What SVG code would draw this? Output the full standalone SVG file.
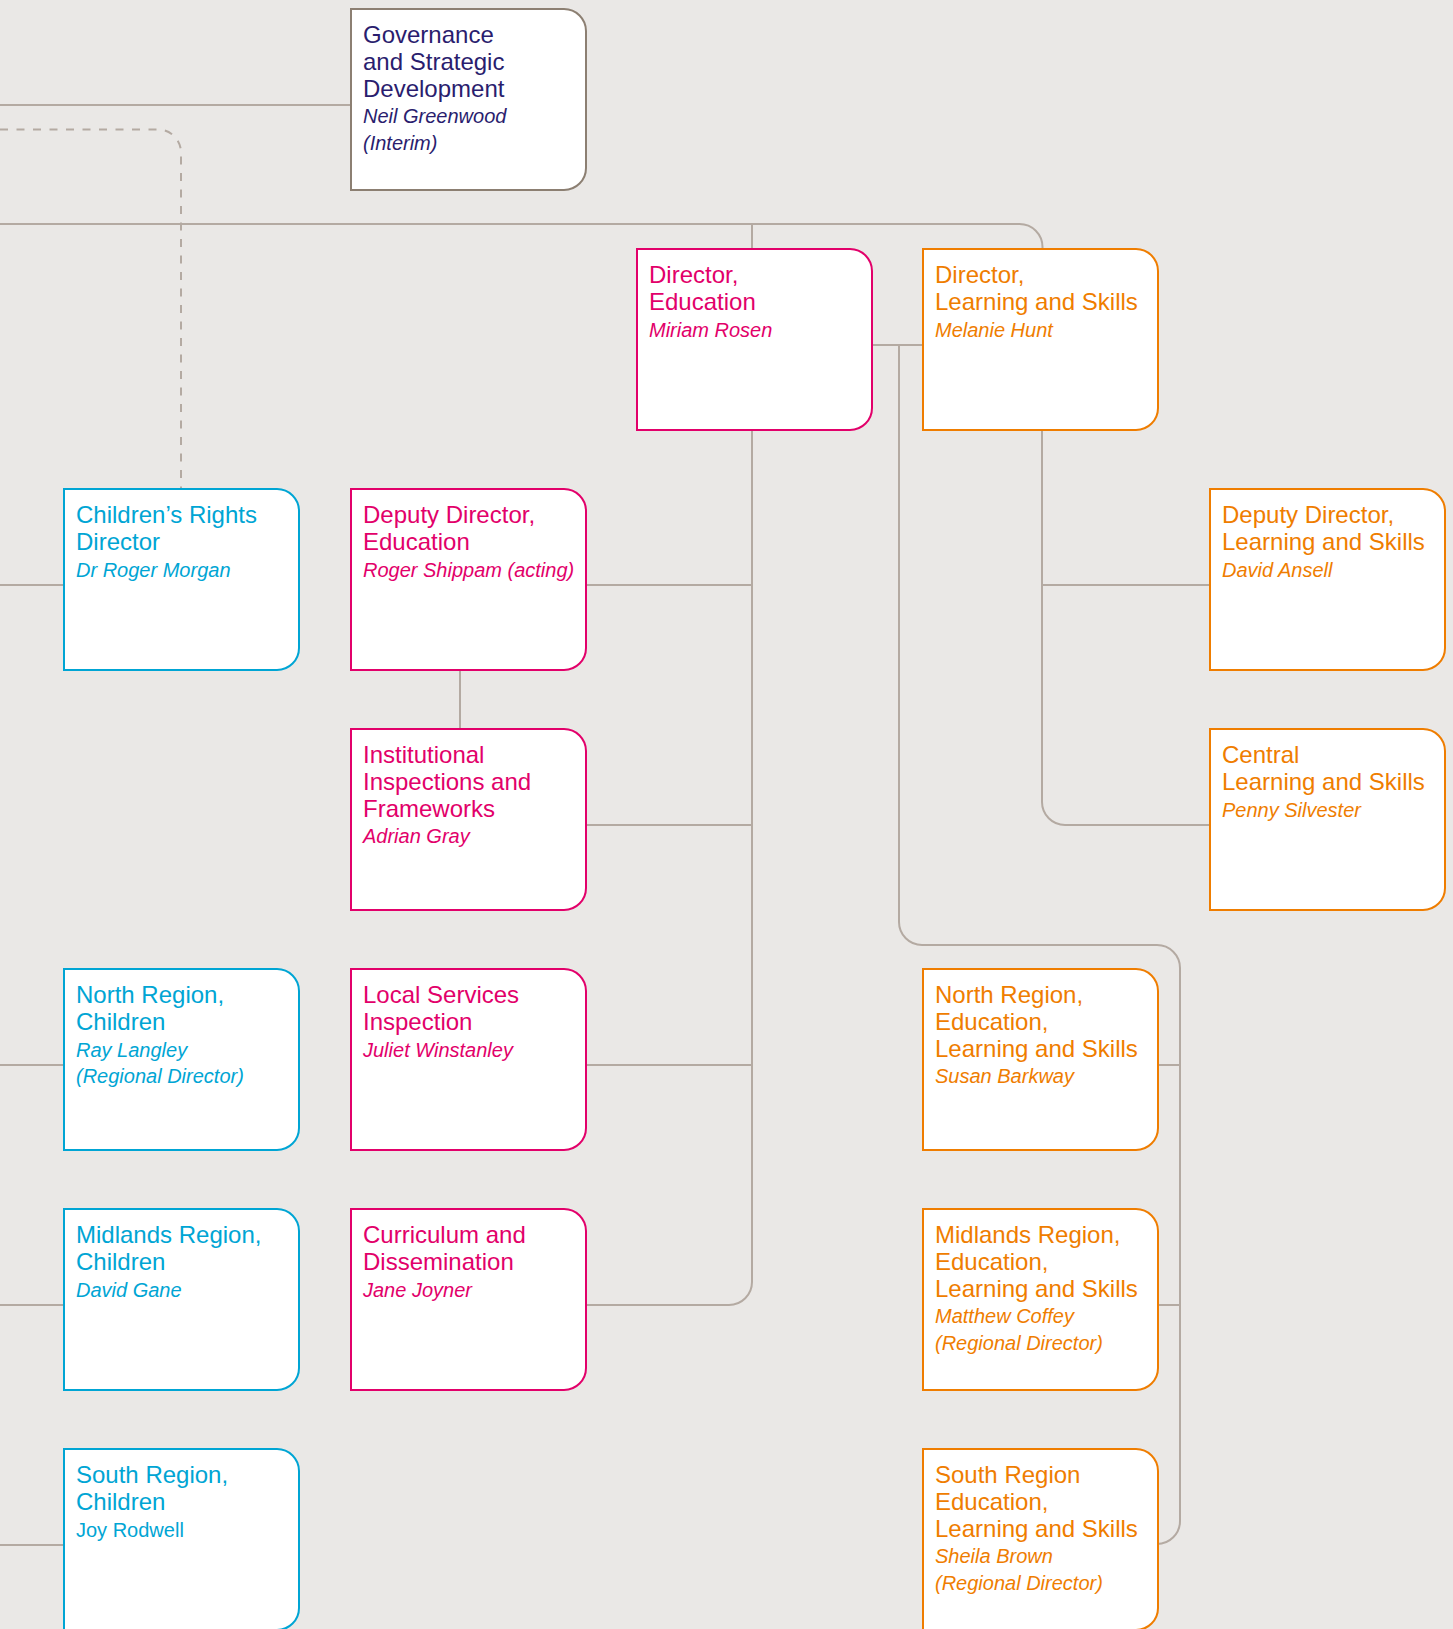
<svg xmlns="http://www.w3.org/2000/svg" width="1453" height="1629" viewBox="0 0 1453 1629">
<style>
  .bg{fill:#EAE8E6}
  .box{fill:#FFFFFF;stroke-width:2}
  .gov .box{stroke:#8C7F72}
  .pink .box{stroke:#E2006A}
  .orange .box{stroke:#EF7D00}
  .blue .box{stroke:#00A5D4}
  text{font-family:"Liberation Sans",Arial,sans-serif}
  .t{font-size:24px}
  .n{font-size:20px;font-style:italic}
  .nr{font-size:20px}
  .gov text{fill:#2A1D6E}
  .pink text{fill:#E2006A}
  .orange text{fill:#EF7D00}
  .blue text{fill:#00A5D4}
  .conn path{fill:none;stroke:#B4AAA2;stroke-width:2}
  .conn path.dash{stroke-dasharray:8 8.5}
</style>
<rect class="bg" x="0" y="0" width="1453" height="1629"/>

<g id="connectors" class="conn">
  <path d="M0 105 H351"/>
  <path class="dash" d="M0 129.5 H158 A23 23 0 0 1 181 152.5 V489"/>
  <path d="M0 224 H1019.5 A23 23 0 0 1 1042.5 247 V249"/>
  <path d="M752 224 V249"/>
  <path d="M872 345 H923"/>
  <path d="M899 345 V922 A23 23 0 0 0 922 945 H1157 A23 23 0 0 1 1180 968 V1521 A23 23 0 0 1 1157 1544"/>
  <path d="M1158 1065 H1180"/>
  <path d="M1158 1305 H1180"/>
  <path d="M752 430 V1282 A23 23 0 0 1 729 1305 H586"/>
  <path d="M586 585 H752"/>
  <path d="M586 825 H752"/>
  <path d="M586 1065 H752"/>
  <path d="M460 670 V729"/>
  <path d="M1042 430 V802 A23 23 0 0 0 1065 825 H1210"/>
  <path d="M1042 585 H1210"/>
  <path d="M0 585 H64"/>
  <path d="M0 1065 H64"/>
  <path d="M0 1305 H64"/>
  <path d="M0 1545 H64"/>
</g>

<g id="governance" class="gov">
  <path class="box" d="M351 9 H564 A22 22 0 0 1 586 31 V168 A22 22 0 0 1 564 190 H351 Z"/>
  <text class="t" x="363" y="43">Governance</text>
  <text class="t" x="363" y="70">and Strategic</text>
  <text class="t" x="363" y="97">Development</text>
  <text class="n" x="363" y="123">Neil Greenwood</text>
  <text class="n" x="363" y="150">(Interim)</text>
</g>

<g id="director-education" class="pink">
  <path class="box" d="M637 249 H850 A22 22 0 0 1 872 271 V408 A22 22 0 0 1 850 430 H637 Z"/>
  <text class="t" x="649" y="283">Director,</text>
  <text class="t" x="649" y="310">Education</text>
  <text class="n" x="649" y="337">Miriam Rosen</text>
</g>

<g id="director-learning-skills" class="orange">
  <path class="box" d="M923 249 H1136 A22 22 0 0 1 1158 271 V408 A22 22 0 0 1 1136 430 H923 Z"/>
  <text class="t" x="935" y="283">Director,</text>
  <text class="t" x="935" y="310">Learning and Skills</text>
  <text class="n" x="935" y="337">Melanie Hunt</text>
</g>

<g id="childrens-rights" class="blue">
  <path class="box" d="M64 489 H277 A22 22 0 0 1 299 511 V648 A22 22 0 0 1 277 670 H64 Z"/>
  <text class="t" x="76" y="523">Children’s Rights</text>
  <text class="t" x="76" y="550">Director</text>
  <text class="n" x="76" y="577">Dr Roger Morgan</text>
</g>

<g id="deputy-director-education" class="pink">
  <path class="box" d="M351 489 H564 A22 22 0 0 1 586 511 V648 A22 22 0 0 1 564 670 H351 Z"/>
  <text class="t" x="363" y="523">Deputy Director,</text>
  <text class="t" x="363" y="550">Education</text>
  <text class="n" x="363" y="577">Roger Shippam (acting)</text>
</g>

<g id="deputy-director-learning-skills" class="orange">
  <path class="box" d="M1210 489 H1423 A22 22 0 0 1 1445 511 V648 A22 22 0 0 1 1423 670 H1210 Z"/>
  <text class="t" x="1222" y="523">Deputy Director,</text>
  <text class="t" x="1222" y="550">Learning and Skills</text>
  <text class="n" x="1222" y="577">David Ansell</text>
</g>

<g id="institutional-inspections" class="pink">
  <path class="box" d="M351 729 H564 A22 22 0 0 1 586 751 V888 A22 22 0 0 1 564 910 H351 Z"/>
  <text class="t" x="363" y="763">Institutional</text>
  <text class="t" x="363" y="790">Inspections and</text>
  <text class="t" x="363" y="817">Frameworks</text>
  <text class="n" x="363" y="843">Adrian Gray</text>
</g>

<g id="central-learning-skills" class="orange">
  <path class="box" d="M1210 729 H1423 A22 22 0 0 1 1445 751 V888 A22 22 0 0 1 1423 910 H1210 Z"/>
  <text class="t" x="1222" y="763">Central</text>
  <text class="t" x="1222" y="790">Learning and Skills</text>
  <text class="n" x="1222" y="817">Penny Silvester</text>
</g>

<g id="north-region-children" class="blue">
  <path class="box" d="M64 969 H277 A22 22 0 0 1 299 991 V1128 A22 22 0 0 1 277 1150 H64 Z"/>
  <text class="t" x="76" y="1003">North Region,</text>
  <text class="t" x="76" y="1030">Children</text>
  <text class="n" x="76" y="1057">Ray Langley</text>
  <text class="n" x="76" y="1083">(Regional Director)</text>
</g>

<g id="local-services-inspection" class="pink">
  <path class="box" d="M351 969 H564 A22 22 0 0 1 586 991 V1128 A22 22 0 0 1 564 1150 H351 Z"/>
  <text class="t" x="363" y="1003">Local Services</text>
  <text class="t" x="363" y="1030">Inspection</text>
  <text class="n" x="363" y="1057">Juliet Winstanley</text>
</g>

<g id="north-region-els" class="orange">
  <path class="box" d="M923 969 H1136 A22 22 0 0 1 1158 991 V1128 A22 22 0 0 1 1136 1150 H923 Z"/>
  <text class="t" x="935" y="1003">North Region,</text>
  <text class="t" x="935" y="1030">Education,</text>
  <text class="t" x="935" y="1057">Learning and Skills</text>
  <text class="n" x="935" y="1083">Susan Barkway</text>
</g>

<g id="midlands-region-children" class="blue">
  <path class="box" d="M64 1209 H277 A22 22 0 0 1 299 1231 V1368 A22 22 0 0 1 277 1390 H64 Z"/>
  <text class="t" x="76" y="1243">Midlands Region,</text>
  <text class="t" x="76" y="1270">Children</text>
  <text class="n" x="76" y="1297">David Gane</text>
</g>

<g id="curriculum-dissemination" class="pink">
  <path class="box" d="M351 1209 H564 A22 22 0 0 1 586 1231 V1368 A22 22 0 0 1 564 1390 H351 Z"/>
  <text class="t" x="363" y="1243">Curriculum and</text>
  <text class="t" x="363" y="1270">Dissemination</text>
  <text class="n" x="363" y="1297">Jane Joyner</text>
</g>

<g id="midlands-region-els" class="orange">
  <path class="box" d="M923 1209 H1136 A22 22 0 0 1 1158 1231 V1368 A22 22 0 0 1 1136 1390 H923 Z"/>
  <text class="t" x="935" y="1243">Midlands Region,</text>
  <text class="t" x="935" y="1270">Education,</text>
  <text class="t" x="935" y="1297">Learning and Skills</text>
  <text class="n" x="935" y="1323">Matthew Coffey</text>
  <text class="n" x="935" y="1350">(Regional Director)</text>
</g>

<g id="south-region-children" class="blue">
  <path class="box" d="M64 1449 H277 A22 22 0 0 1 299 1471 V1608 A22 22 0 0 1 277 1630 H64 Z"/>
  <text class="t" x="76" y="1483">South Region,</text>
  <text class="t" x="76" y="1510">Children</text>
  <text class="nr" x="76" y="1537">Joy Rodwell</text>
</g>

<g id="south-region-els" class="orange">
  <path class="box" d="M923 1449 H1136 A22 22 0 0 1 1158 1471 V1608 A22 22 0 0 1 1136 1630 H923 Z"/>
  <text class="t" x="935" y="1483">South Region</text>
  <text class="t" x="935" y="1510">Education,</text>
  <text class="t" x="935" y="1537">Learning and Skills</text>
  <text class="n" x="935" y="1563">Sheila Brown</text>
  <text class="n" x="935" y="1590">(Regional Director)</text>
</g>
</svg>
